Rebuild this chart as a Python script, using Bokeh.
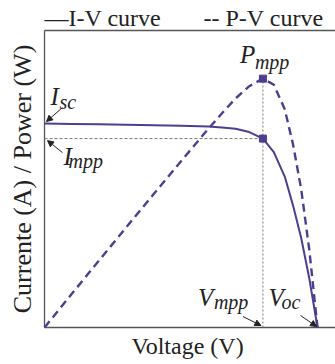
import math
from bokeh.plotting import figure
from bokeh.models import Label, Arrow, NormalHead, Range1d
from bokeh.embed import file_html
from bokeh.resources import INLINE

# --- data (normalised units) ---
voltage = [0.0, 0.1, 0.2, 0.3, 0.4, 0.5, 0.6, 0.65, 0.7, 0.75, 0.8, 0.84, 0.88, 0.91, 0.94, 0.97, 1.0]
current = [1.0, 0.998, 0.996, 0.994, 0.992, 0.989, 0.985, 0.981, 0.974, 0.958, 0.926, 0.86, 0.74, 0.60, 0.44, 0.24, 0.0]
power   = [0.0, 0.165, 0.329, 0.492, 0.654, 0.815, 0.974, 1.05, 1.123, 1.183, 1.22, 1.19, 1.07, 0.90, 0.68, 0.38, 0.0]
Vmpp, Impp, Pmpp = 0.80, 0.926, 1.22
Voc, Isc = 1.0, 1.0
legend_labels = ["\u2014I-V curve", "-- P-V curve"]
x_title = "Voltage (V)"
y_title = "Currente (A) / Power (W)"

PURPLE = "#4e3d91"
SERIF = "Liberation Serif"
W, H = 335, 364
X0, X1 = -0.1612, 1.0659     # visible voltage span (plot box starts at 0)
Y0, Y1 = -0.1814, 1.603      # visible value span
YTOP = 1.456                 # top edge of the plot box

p = figure(width=W, height=H, output_backend="svg", toolbar_location=None,
           x_range=Range1d(X0, X1), y_range=Range1d(Y0, Y1),
           min_border=0, x_axis_location=None, y_axis_location=None)
p.grid.visible = False
p.outline_line_color = None
p.background_fill_color = "white"
p.border_fill_color = "white"

sx = (X1 - X0) / W
sy = (Y1 - Y0) / H

# plot box: left, bottom, top
BOX = "#555555"
p.line([0, 0], [0, YTOP], line_color=BOX, line_width=1.3)
p.line([0, X1], [0, 0], line_color=BOX, line_width=1.3)
p.line([0, X1], [YTOP, YTOP], line_color=BOX, line_width=1.3)

# reference lines at MPP
p.line([0, Vmpp], [Impp, Impp], line_color="#777777", line_width=1, line_dash="3 2")
p.line([Vmpp, Vmpp], [0, Pmpp], line_color="#777777", line_width=1, line_dash="2 2")

# curves
p.line(voltage, current, line_color=PURPLE, line_width=2)
p.line(voltage, power, line_color=PURPLE, line_width=2.4, line_dash="8 5")
p.scatter([Vmpp, Vmpp], [Impp, Pmpp], marker="square", size=7, color=PURPLE)

SHIFT = 9
def lab(x, y, text, dx, dy, size, italic=True, **kw):
    p.add_layout(Label(x=x, y=y, text=text, x_offset=dx, y_offset=dy + SHIFT,
                       text_font=SERIF, text_font_size=f"{size}px",
                       text_font_style="italic" if italic else "normal",
                       text_color="#222222", text_baseline=kw.pop("baseline", "alphabetic"),
                       text_align=kw.pop("align", "left"), **kw))

BIG, SUB = 25, 20
lab(0, Isc, "I", 6, 18, BIG); lab(0, Isc, "sc", 15, 13, SUB)
lab(0, Impp, "I", 19, -27, BIG); lab(0, Impp, "mpp", 24, -31, SUB)
lab(Vmpp, Pmpp, "P", -23, 15, BIG); lab(Vmpp, Pmpp, "mpp", -8, 8, SUB)
lab(Vmpp, 0, "V", -65, 21, BIG); lab(Vmpp, 0, "mpp", -49, 16, SUB)
lab(Voc, 0, "V", -49, 21, BIG); lab(Voc, 0, "oc", -36, 16, SUB)

# legend-like texts above the box
lab(0, YTOP, legend_labels[0], 0, 3, 24, italic=False)
lab(0, YTOP, legend_labels[1], 159, 3, 24, italic=False)

# axis titles
lab(0.524, 0, x_title, 0, -28, 24, italic=False, align="center")
p.add_layout(Label(x=0, y=YTOP / 2, text=y_title, x_offset=-22,
                   text_font=SERIF, text_font_size="26px", text_color="#222222",
                   text_align="center", text_baseline="middle", angle=math.pi / 2))

# arrows (offsets in px converted to data)
def arrow(x, y, dx0, dy0, dx1, dy1):
    p.add_layout(Arrow(x_start=x + dx0 * sx, y_start=y + dy0 * sy,
                       x_end=x + dx1 * sx, y_end=y + dy1 * sy,
                       line_color="#222222", line_width=1,
                       end=NormalHead(size=6, fill_color="#222222", line_color="#222222")))

arrow(0, Isc, 18, 16, 2, 2)
arrow(0, Impp, 18, -14, 3, -2)
arrow(Vmpp, 0, -20, 11, -2, 2)
arrow(Voc, 0, -17, 12, -1, 1)

open("out.html", "w").write(file_html(p, INLINE))
